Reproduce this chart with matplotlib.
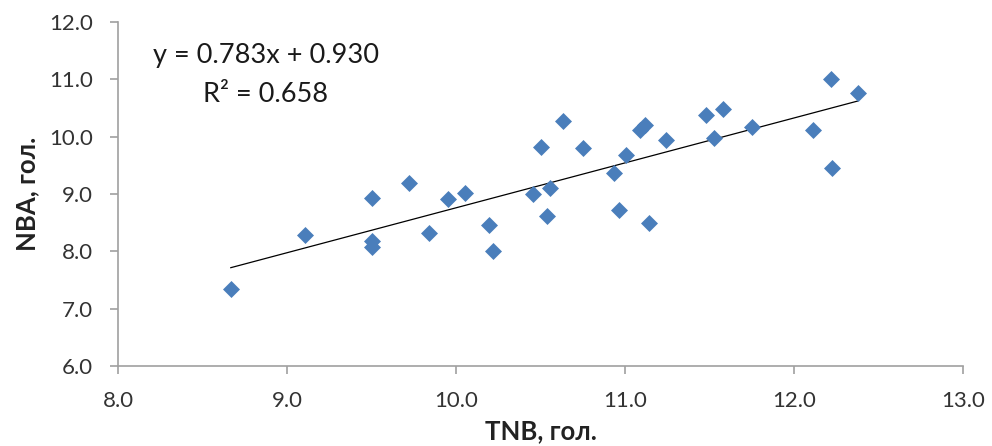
import matplotlib.pyplot as plt

# TNB vs NBA values
tnb = [8.667, 9.107, 9.501, 9.501, 9.501, 9.724, 9.842, 9.953, 10.051, 10.197,
       10.221, 10.457, 10.503, 10.538, 10.556, 10.635, 10.750, 10.933, 10.966,
       11.004, 11.089, 11.120, 11.144, 11.240, 11.480, 11.523, 11.578, 11.753,
       12.114, 12.219, 12.223, 12.375]
nba = [7.338, 8.280, 8.934, 8.180, 8.075, 9.185, 8.320, 8.910, 9.010, 8.453,
       8.010, 8.993, 9.822, 8.615, 9.098, 10.275, 9.805, 9.359, 8.720,
       9.678, 10.113, 10.206, 8.488, 9.940, 10.369, 9.969, 10.474, 10.171,
       10.118, 11.002, 9.446, 10.758]

slope, intercept = 0.783, 0.930
r2 = 0.658

x_ticks = [8.0, 9.0, 10.0, 11.0, 12.0, 13.0]
y_ticks = [6.0, 7.0, 8.0, 9.0, 10.0, 11.0, 12.0]

plt.rcParams['font.family'] = ['Lato', 'DejaVu Sans']

fig = plt.figure(figsize=(9.92, 4.46), dpi=100)
ax = fig.add_axes([0.119, 0.179, 0.852, 0.772])

ax.scatter(tnb, nba, marker='D', s=75, color='#4a7ebb', zorder=3, linewidths=0)

# linear trendline over the data range
x0, x1 = min(tnb), max(tnb)
ax.plot([x0, x1], [slope * x0 + intercept, slope * x1 + intercept],
        color='black', lw=0.9, zorder=2)

ax.text(0.041, 0.903, f'y = {slope:.3f}x + {intercept:.3f}', transform=ax.transAxes,
        fontsize=19.5, va='center', ha='left', color='#1a1a1a')
ax.text(0.101, 0.79, f'R² = {r2:.3f}', transform=ax.transAxes,
        fontsize=19.5, va='center', ha='left', color='#1a1a1a')

ax.set_xlim(8.0, 13.0)
ax.set_ylim(6.0, 12.0)
ax.set_xticks(x_ticks)
ax.set_yticks(y_ticks)
ax.set_xticklabels([f'{v:.1f}' for v in x_ticks])
ax.set_yticklabels([f'{v:.1f}' for v in y_ticks])
ax.tick_params(labelsize=16, colors='#a0a0a0', labelcolor='#333333',
               length=6, width=1.2, pad=12)

for side in ['top', 'right']:
    ax.spines[side].set_visible(False)
for side in ['left', 'bottom']:
    ax.spines[side].set_color('#a0a0a0')
    ax.spines[side].set_linewidth(1.2)

ax.set_xlabel('TNB, гол.', fontsize=18.5, fontweight='bold', color='#222222')
ax.set_ylabel('NBA, гол.', fontsize=18.5, fontweight='bold', color='#222222')
ax.xaxis.set_label_coords(0.5, -0.189)
ax.xaxis.label.set_va('center')
ax.yaxis.set_label_coords(-0.108, 0.5)
ax.yaxis.label.set_va('center')

fig.savefig('out.png', dpi=100)
